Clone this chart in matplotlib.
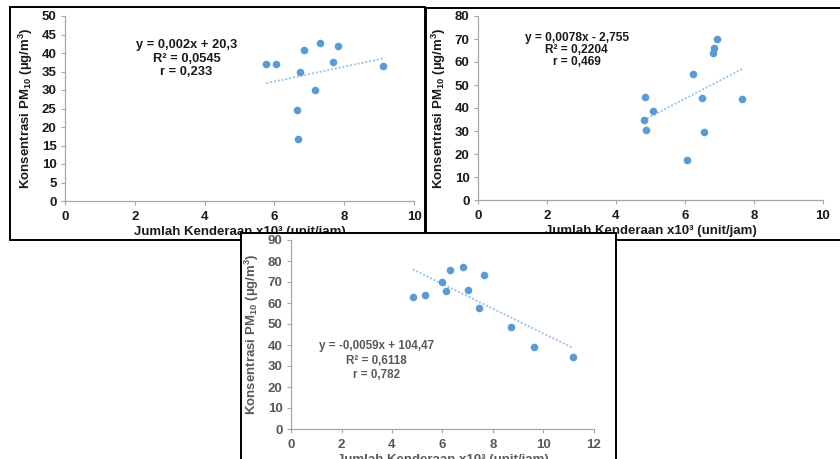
import numpy as np
import matplotlib
matplotlib.use("Agg")
import matplotlib.pyplot as plt
from matplotlib.patches import Rectangle

plt.rcParams['font.family'] = ['Liberation Sans', 'DejaVu Sans']
plt.rcParams['font.weight'] = 'bold'
plt.rcParams['mathtext.default'] = 'regular'

# panel 1
x1 = [5.77, 6.04, 6.86, 7.30, 7.81, 7.67, 6.72, 7.17, 6.65, 6.69, 9.12]
y1 = [36.9, 36.9, 40.8, 42.8, 41.8, 37.5, 34.9, 30.1, 24.5, 16.7, 36.5]
slope1, icpt1 = 0.002, 20.3
eq1 = ["y = 0,002x + 20,3", "R² = 0,0545", "r = 0,233"]

# panel 2
x2 = [6.92, 6.85, 6.82, 6.23, 6.50, 7.65, 4.85, 5.06, 4.80, 4.88, 6.54, 6.07]
y2 = [70.2, 65.9, 63.7, 55.0, 44.4, 44.0, 44.9, 38.8, 34.7, 30.5, 29.7, 17.4]
slope2, icpt2 = 0.0078, -2.755
eq2 = ["y = 0,0078x - 2,755", "R² = 0,2204", "r = 0,469"]

# panel 3
x3 = [4.82, 5.31, 5.98, 6.14, 6.30, 6.82, 7.02, 7.65, 7.43, 8.71, 9.63, 11.15]
y3 = [62.9, 63.9, 69.9, 65.9, 75.6, 77.2, 66.4, 73.2, 57.5, 48.7, 39.0, 34.1]
slope3, icpt3 = -0.0059, 104.47
eq3 = ["y = -0,0059x + 104,47", "R² = 0,6118", "r = 0,782"]

xlabel = "Jumlah Kenderaan x10³ (unit/jam)"
ylabel = "Konsentrasi PM$_{10}$ (µg/m$^3$)"

W, H = 840, 459
fig = plt.figure(figsize=(W / 100, H / 100), dpi=100)


def box(x0, y0, x1_, y1_, z):
    r = Rectangle((x0 / W, 1 - y1_ / H), (x1_ - x0) / W, (y1_ - y0) / H,
                  transform=fig.transFigure, facecolor='white',
                  edgecolor='black', lw=1.4, zorder=z)
    fig.add_artist(r)


def panel(rect, z, x, y, slope, icpt, eq, eqpos, eqsize, xmax, ymax, ystep,
          col, xlabelpad, ylabelpad):
    ax = fig.add_axes([rect[0] / W, 1 - rect[3] / H,
                       (rect[2] - rect[0]) / W, (rect[3] - rect[1]) / H])
    ax.set_zorder(z)
    ax.patch.set_alpha(0)
    ax.scatter(x, y, s=30, color='#5B9BD5', zorder=3, linewidths=0)
    xs = np.array([min(x), max(x)])
    ax.plot(xs, slope * 1000 * xs + icpt, color='#9DC3E6', lw=1.4,
            ls=(0, (1, 1)), zorder=2)
    for i, t in enumerate(eq):
        ax.text(eqpos[0], eqpos[1] - i * eqpos[2], t, ha='center',
                va='center', fontsize=eqsize, fontweight='bold', color=col)
    ax.set_xlim(0, xmax)
    ax.set_ylim(0, ymax)
    ax.set_xticks(np.arange(0, xmax + 1, 2))
    ax.set_yticks(np.arange(0, ymax + 1, ystep))
    for s in ['top', 'right']:
        ax.spines[s].set_visible(False)
    for s in ['left', 'bottom']:
        ax.spines[s].set_color('#A6A6A6')
        ax.spines[s].set_linewidth(0.9)
    ax.tick_params(length=3, width=0.8, color='#A6A6A6', labelsize=9.5,
                   labelcolor=col, pad=3)
    ax.tick_params(axis='x', pad=4)
    for lb in ax.get_xticklabels() + ax.get_yticklabels():
        lb.set_fontweight('bold')
    ax.set_xlabel(xlabel, fontsize=9.5, fontweight='bold', color=col,
                  labelpad=xlabelpad)
    ax.set_ylabel(ylabel, fontsize=9.5, fontweight='bold', color=col,
                  labelpad=ylabelpad)
    return ax


box(10, 7, 425, 240, 0)
panel((65, 16, 414, 201), 1, x1, y1, slope1, icpt1, eq1, (3.48, 42.1, 3.6),
      9.3, 10, 50, 5, '#1a1a1a', 2, 5)
box(426, 8, 850, 240, 2)
panel((478, 16, 823, 200), 3, x2, y2, slope2, icpt2, eq2, (2.86, 70.6, 5.2),
      8.6, 10, 80, 10, '#1a1a1a', 2, 5)
box(241, 233, 616, 470, 4)
panel((291, 240, 594, 429), 5, x3, y3, slope3, icpt3, eq3, (3.40, 39.3, 6.8),
      8.4, 12, 90, 10, '#595959', 2, 5)

fig.savefig("out.png", dpi=100)
